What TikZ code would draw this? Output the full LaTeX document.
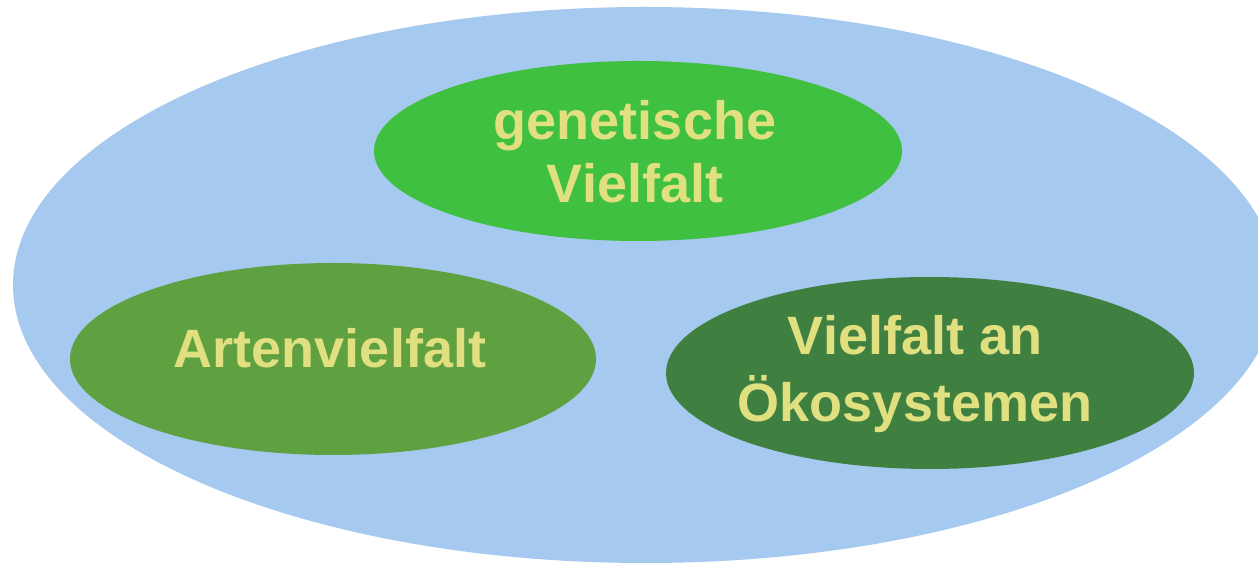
\documentclass[tikz,border=0pt]{standalone}
\usepackage{fontspec}
\setmainfont{Liberation Sans}
\definecolor{skyblue}{HTML}{A6C9EF}
\definecolor{genGreen}{HTML}{40C040}
\definecolor{artGreen}{HTML}{5FA040}
\definecolor{ecoGreen}{HTML}{3F8040}
\definecolor{labelYellow}{HTML}{E0E080}
\tikzset{
  lbl/.style={anchor=base, inner sep=0pt, text=labelYellow, font=\fontsize{27}{32}\selectfont\bfseries}
}
\begin{document}
\begin{tikzpicture}[x=0.5pt,y=-0.5pt]
\useasboundingbox (0,0) rectangle (1258,565);
\clip (0,0) rectangle (1258,565);
\fill[skyblue] (645,285) ellipse [x radius=632, y radius=278];
\fill[genGreen] (638,151) ellipse [x radius=264, y radius=90];
\fill[artGreen] (333,359) ellipse [x radius=263, y radius=96];
\fill[ecoGreen] (930,373) ellipse [x radius=264, y radius=96];
\node[lbl] (gen1) at (635,140) {genetische};
\node[lbl] (gen2) at (635,203) {Vielfalt};
\node[lbl] (art) at (330,368) {Artenvielfalt};
\node[lbl] (eco1) at (915,355) {Vielfalt an};
\node[lbl] (eco2) at (915,422) {Ökosystemen};
\end{tikzpicture}
\end{document}
